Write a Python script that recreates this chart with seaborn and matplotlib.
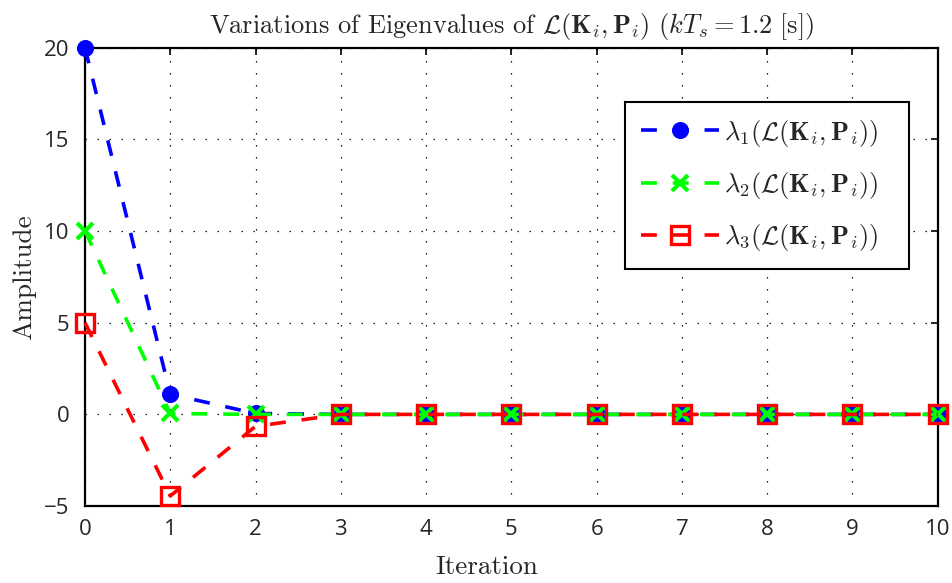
import numpy as np
import pandas as pd
import matplotlib
matplotlib.use("Agg")
import matplotlib.pyplot as plt
from matplotlib.offsetbox import DrawingArea
import seaborn as sns

# Eigenvalue trajectories per iteration
iterations = list(range(11))
lambda1 = [20.0, 1.1, 0.05, 0, 0, 0, 0, 0, 0, 0, 0]
lambda2 = [10.0, 0.05, 0.0, 0, 0, 0, 0, 0, 0, 0, 0]
lambda3 = [5.0, -4.45, -0.65, 0, 0, 0, 0, 0, 0, 0, 0]

series_labels = [
    r"$\lambda_1(\mathcal{L}(\mathbf{K}_i,\mathbf{P}_i))$",
    r"$\lambda_2(\mathcal{L}(\mathbf{K}_i,\mathbf{P}_i))$",
    r"$\lambda_3(\mathcal{L}(\mathbf{K}_i,\mathbf{P}_i))$",
]
x_ticks = list(range(11))
y_ticks = [-5, 0, 5, 10, 15, 20]

sns.set_style("white")
plt.rcParams["mathtext.fontset"] = "cm"
plt.rcParams["axes.unicode_minus"] = True

fig = plt.figure(figsize=(9.53, 5.83), dpi=100)
ax = fig.add_axes([0.0892, 0.132, 0.8948, 0.786])

df = pd.DataFrame({"it": iterations, "l1": lambda1, "l2": lambda2, "l3": lambda3})
lw = 2.6
dash = (0, (4.4, 4.4))

sns.lineplot(data=df, x="it", y="l1", ax=ax, color="#0000ff", lw=lw, ls=dash,
             marker="o", ms=11.5, mfc="#0000ff", mec="#0000ff",
             label=series_labels[0], clip_on=False, zorder=3)
sns.lineplot(data=df, x="it", y="l2", ax=ax, color="#00ff00", lw=lw, ls=dash,
             marker="x", ms=11, mew=3.0, mec="#00ff00",
             label=series_labels[1], clip_on=False, zorder=4)
sns.lineplot(data=df, x="it", y="l3", ax=ax, color="#ff0000", lw=lw, ls=dash,
             marker="s", ms=13, mew=2.4, mfc="none", mec="#ff0000",
             label=series_labels[2], clip_on=False, zorder=5)

ax.set_xlim(0, 10)
ax.set_ylim(-5, 20)
ax.set_xticks(x_ticks)
ax.set_yticks(y_ticks)

tick_font = {"family": ["Open Sans", "DejaVu Sans"], "size": 16}
ax.set_xticklabels([str(t) for t in x_ticks], fontdict=tick_font)
ax.set_yticklabels([str(t).replace("-", "\u2212") for t in y_ticks], fontdict=tick_font)

ax.tick_params(direction="in", length=5, width=1.2, color="black",
               top=True, right=True)
ax.tick_params(axis="y", pad=11)
ax.tick_params(axis="x", pad=9)
for s in ax.spines.values():
    s.set_color("black")
    s.set_linewidth(1.6)

ax.grid(True, ls=(0, (1.1, 8.5)), color="black", lw=0.9)
ax.set_axisbelow(True)

ax.set_xlabel("Iteration", family="cmr10", fontsize=19.5)
ax.xaxis.set_label_coords(0.471, -0.108)
ax.set_ylabel("Amplitude", family="cmr10", fontsize=19.5, labelpad=6)
ax.set_title(r"Variations of Eigenvalues of $\mathcal{L}(\mathbf{K}_i,\mathbf{P}_i)$ $(kT_s = 1.2\ [\mathrm{s}])$",
             family="cmr10", fontsize=19, pad=11)

leg = ax.legend(loc="upper right", bbox_to_anchor=(0.966, 0.882), fontsize=19,
                frameon=True, fancybox=False, edgecolor="black", framealpha=1,
                handlelength=2.95, handletextpad=0.2, borderpad=0.6, labelspacing=0.8,
                borderaxespad=0)
leg.get_frame().set_linewidth(1.5)

# extra blank space after each legend label (wider right margin in the box)
for column in leg._legend_handle_box.get_children():
    for row in column.get_children():
        row.get_children().append(DrawingArea(7, 0))

fig.savefig("out.png", dpi=100)
